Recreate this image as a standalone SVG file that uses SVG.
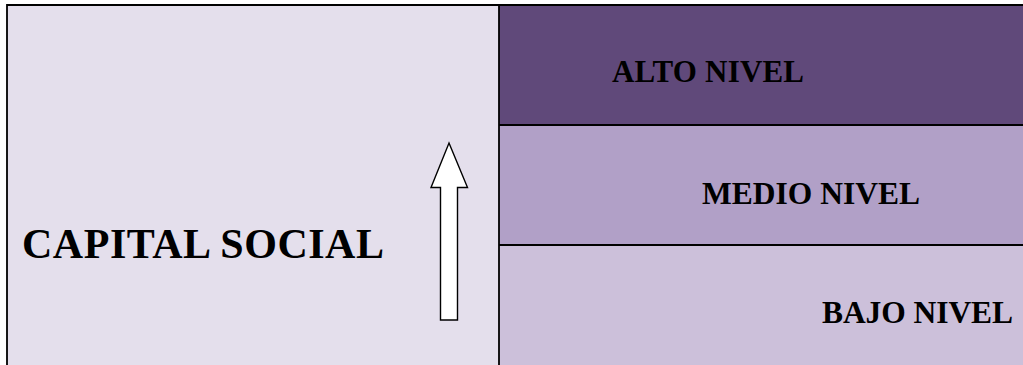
<svg xmlns="http://www.w3.org/2000/svg" width="1023" height="365" viewBox="0 0 1023 365">
<style>
.lbl{font-family:"Liberation Serif","Times New Roman",serif;font-weight:bold;fill:#000}
.ln{stroke:#000;stroke-width:1.8;fill:none}
</style>
<rect width="1023" height="365" fill="#ffffff"/>
<g id="capital-social">
<rect x="7" y="5" width="492" height="365" fill="#E4DFEC"/>
<text class="lbl" x="22" y="258" font-size="42" textLength="362">CAPITAL SOCIAL</text>
</g>
<g id="alto-nivel">
<rect x="499" y="5" width="530" height="120" fill="#60497A"/>
<text class="lbl" x="612" y="82" font-size="31" textLength="192">ALTO NIVEL</text>
</g>
<g id="medio-nivel">
<rect x="499" y="125" width="530" height="120" fill="#B1A0C7"/>
<text class="lbl" x="702" y="204" font-size="31.5" textLength="218">MEDIO NIVEL</text>
</g>
<g id="bajo-nivel">
<rect x="499" y="245" width="530" height="125" fill="#CCC0DA"/>
<text class="lbl" x="822" y="323" font-size="31.5" textLength="191">BAJO NIVEL</text>
</g>
<g id="connectors">
<path class="ln" d="M7 370 V5 H1030"/>
<line class="ln" x1="499" y1="5" x2="499" y2="370"/>
<line class="ln" x1="499" y1="125" x2="1030" y2="125"/>
<line class="ln" x1="499" y1="245" x2="1030" y2="245"/>
<path d="M449 143 L467.5 187.5 H457.5 V320 H440.5 V187.5 H431 Z" fill="#ffffff" stroke="#000" stroke-width="1.4" stroke-linejoin="miter"/>
</g>
</svg>
